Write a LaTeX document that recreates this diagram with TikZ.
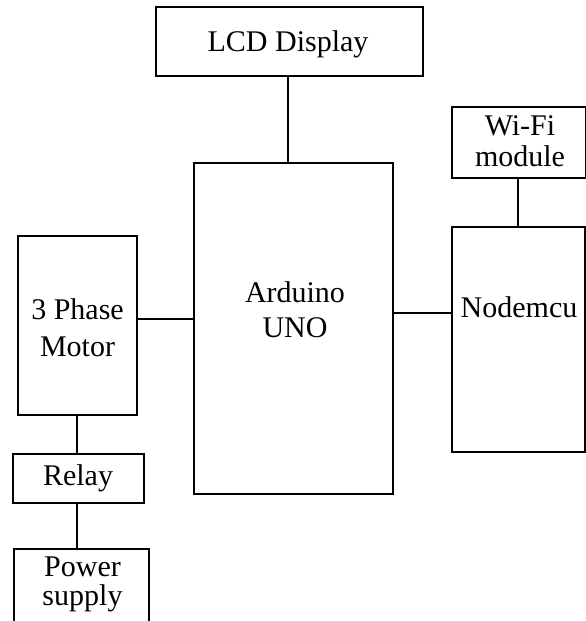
\documentclass[tikz,border=0pt]{standalone}
\usepackage{fontspec}
\setmainfont{Liberation Serif}
\begin{document}
\begin{tikzpicture}[x=1pt,y=-1pt,
  blk/.style={draw, line width=1.6pt, inner sep=0pt, minimum width=#1},
  lbl/.style={inner sep=0pt, anchor=base, align=center},
  wire/.style={line width=1.6pt}]
\useasboundingbox (0,0) rectangle (586,621);
\clip (0,0) rectangle (586,621);
% boxes
\node[blk=267pt, minimum height=69pt] (lcd) at (289.5,41.5) {};
\node[blk=199pt, minimum height=331pt] (ard) at (293.5,328.5) {};
\node[blk=134pt, minimum height=71pt] (wifi) at (519,142.5) {};
\node[blk=133pt, minimum height=225pt] (node) at (518.5,339.5) {};
\node[blk=119pt, minimum height=179pt] (mot) at (77.5,325.5) {};
\node[blk=131pt, minimum height=49pt] (rel) at (78.5,478.5) {};
\node[blk=135pt, minimum height=86pt] (pow) at (81.5,592) {};
% labels (multi-line labels are anchored at the baseline of their last line)
\node[lbl, font=\fontsize{30}{30}\selectfont] (tlcd) at (288,51) {LCD Display};
\node[lbl, font=\fontsize{30}{31}\selectfont] (twifi) at (520,166) {Wi-Fi\\module};
\node[lbl, font=\fontsize{30}{35}\selectfont] (tard) at (295,337) {Arduino\\UNO};
\node[lbl, font=\fontsize{30}{30}\selectfont] (tnode) at (519,317) {Nodemcu};
\node[lbl, font=\fontsize{30}{37}\selectfont] (tmot) at (77.5,356) {3 Phase\\Motor};
\node[lbl, font=\fontsize{30}{30}\selectfont] (trel) at (78,485) {Relay};
\node[lbl, font=\fontsize{30}{29}\selectfont] (tpow) at (82.5,605) {Power\\supply};
% connectors
\draw[wire] ([xshift=-1.5pt]lcd.south) -- ([xshift=-1.5pt]lcd.south |- ard.north);
\draw[wire] ([yshift=6.5pt]mot.east) -- ([yshift=6.5pt]mot.east -| ard.west);
\draw[wire] ([yshift=26.5pt]node.west) -- ([yshift=26.5pt]node.west -| ard.east);
\draw[wire] ([xshift=-1pt]wifi.south) -- ([xshift=-1pt]wifi.south |- node.north);
\draw[wire] ([xshift=-0.5pt]mot.south) -- ([xshift=-0.5pt]mot.south |- rel.north);
\draw[wire] ([xshift=-1.5pt]rel.south) -- ([xshift=-1.5pt]rel.south |- pow.north);
\end{tikzpicture}
\end{document}
